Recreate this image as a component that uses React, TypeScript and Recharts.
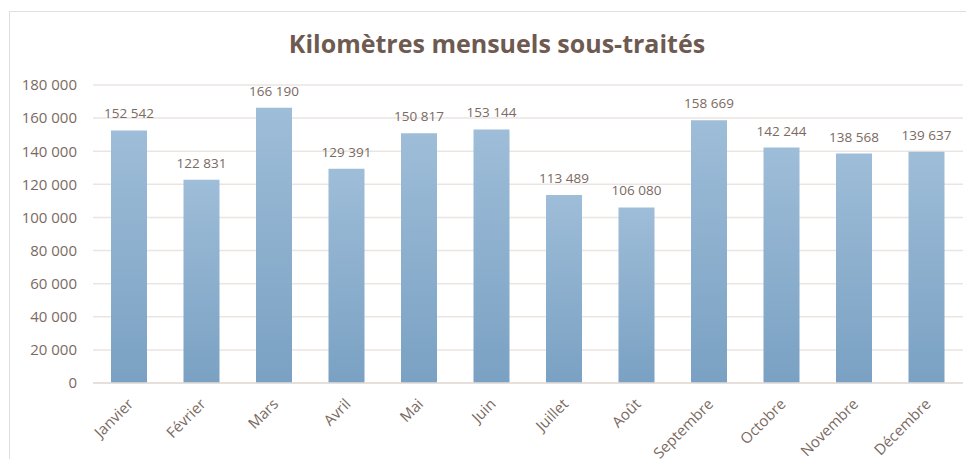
import { BarChart, Bar, XAxis, YAxis, CartesianGrid, LabelList } from 'recharts';

const months = ['Janvier', 'Février', 'Mars', 'Avril', 'Mai', 'Juin', 'Juillet', 'Août', 'Septembre', 'Octobre', 'Novembre', 'Décembre'];
const kilometres = [152542, 122831, 166190, 129391, 150817, 153144, 113489, 106080, 158669, 142244, 138568, 139637];
const yTicks = [0, 20000, 40000, 60000, 80000, 100000, 120000, 140000, 160000, 180000];

const chartData = months.map((month, i) => ({ month, km: kilometres[i] }));

const FONT = '"Open Sans", sans-serif';
const TEXT = '#7a6a62';

// espace insécable pour que les étiquettes ne passent pas à la ligne
const fmt = (v: number) => String(v).replace(/\B(?=(\d{3})+(?!\d))/g, '\u00a0');

const MonthTick = (props: any) => {
    const { x, y, payload } = props;
    return (
        <g transform={`translate(${x + 5},${y + 14})`}>
            <text textAnchor="end" transform="rotate(-45)" fill={TEXT} fontSize={15} fontFamily={FONT}>
                {payload.value}
            </text>
        </g>
    );
};

export default function App() {
    return (
        <div style={{ position: 'relative', margin: -8, width: 974, height: 467, background: '#fff', overflow: 'hidden' }}>
            <div style={{ position: 'absolute', left: 9, top: 11, width: 980, height: 480, border: '1px solid #e3dedb' }} />
            <div
                style={{
                    position: 'absolute', left: 0, top: 26, width: 994, textAlign: 'center',
                    fontFamily: FONT, fontWeight: 700, fontSize: 25, color: '#6e5a50',
                }}
            >
                Kilomètres mensuels sous-traités
            </div>
            <div style={{ position: 'absolute', left: 0, top: 0 }}>
                <BarChart width={974} height={467} data={chartData} margin={{ top: 85, right: 11, left: 0, bottom: 0 }}>
                    <defs>
                        <linearGradient id="barFill" x1="0" y1="0" x2="0" y2="1">
                            <stop offset="0%" stopColor="#9ebdd8" />
                            <stop offset="100%" stopColor="#7aa1c3" />
                        </linearGradient>
                    </defs>
                    <CartesianGrid vertical={false} stroke="#ebe5e2" strokeWidth={1.5} />
                    <XAxis
                        dataKey="month"
                        interval={0}
                        height={84}
                        tickLine={false}
                        axisLine={{ stroke: '#e3dcd8', strokeWidth: 1.5 }}
                        tick={<MonthTick />}
                    />
                    <YAxis
                        width={93}
                        domain={[0, 180000]}
                        ticks={yTicks}
                        interval={0}
                        axisLine={false}
                        tickLine={false}
                        tickSize={0}
                        tickMargin={16}
                        tickFormatter={fmt}
                        tick={{ fill: TEXT, fontSize: 15, fontFamily: FONT }}
                    />
                    <Bar dataKey="km" fill="url(#barFill)" barSize={36} isAnimationActive={false}>
                        <LabelList
                            dataKey="km"
                            position="top"
                            offset={12}
                            formatter={(v: any) => fmt(Number(v))}
                            fill={TEXT}
                            fontSize={13.5}
                            fontFamily={FONT}
                        />
                    </Bar>
                </BarChart>
            </div>
        </div>
    );
}
